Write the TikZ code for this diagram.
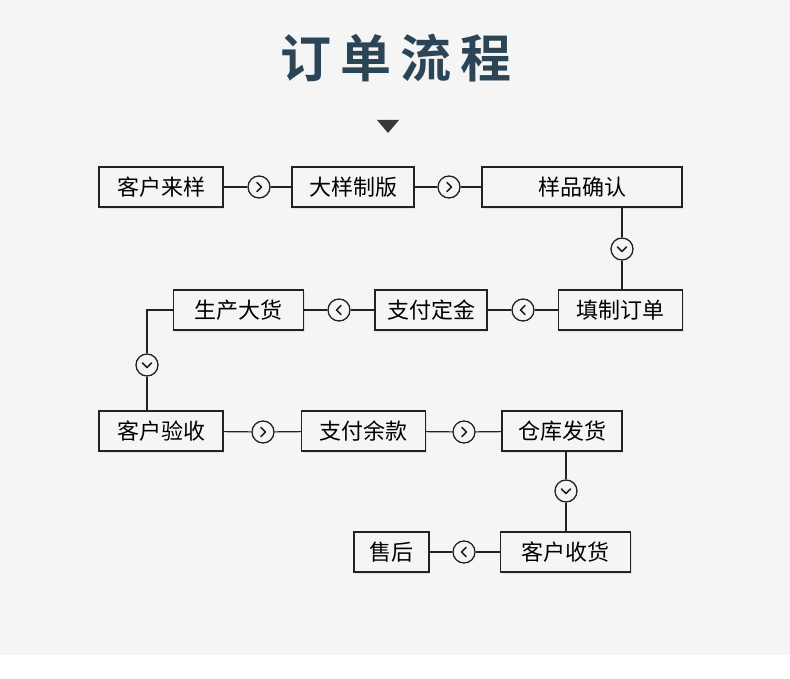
\documentclass[tikz,border=0pt]{standalone}
\usepackage{fontspec}
\newfontfamily\cjk{Noto Sans CJK SC}
\newfontfamily\cjkbold{Noto Sans CJK SC Bold}
\usetikzlibrary{shadows}

\definecolor{bggray}{HTML}{F5F5F5}
\definecolor{titleblue}{HTML}{2B4557}
\definecolor{linegray}{HTML}{222222}

\tikzset{
  stepbox/.style={draw=linegray, line width=1.2pt, fill=bggray, inner sep=0pt,
    minimum height=40pt, font=\cjk\fontsize{22pt}{22pt}\selectfont,
    drop shadow={shadow xshift=1pt, shadow yshift=-2pt, opacity=.15}},
  turn/.style={circle, draw=linegray, line width=1.3pt, fill=bggray, inner sep=0pt, minimum size=22pt},
  link/.style={draw=linegray, line width=1.2pt},
  chev/.style={draw=linegray, line width=1.5pt, line cap=round, line join=round}
}

% chevrons inside the turn circles
\newcommand\chevright[1]{\draw[chev] ([shift={(-2pt,4.5pt)}]#1.center) -- ++(4.5pt,-4.5pt) -- ++(-4.5pt,-4.5pt);}
\newcommand\chevleft[1]{\draw[chev] ([shift={(2pt,4.5pt)}]#1.center) -- ++(-4.5pt,-4.5pt) -- ++(4.5pt,-4.5pt);}
\newcommand\chevdown[1]{\draw[chev] ([shift={(-4.5pt,2pt)}]#1.center) -- ++(4.5pt,-4.5pt) -- ++(4.5pt,4.5pt);}

\begin{document}
\begin{tikzpicture}[x=1pt,y=-1pt]
	\fill[bggray] (0,0) rectangle (790,655);
	\useasboundingbox (0,0) rectangle (790,679);

	% title
	\node[text=titleblue, font=\cjkbold\fontsize{51pt}{51pt}\selectfont] (title) at (396,58)
	  {订\hspace{9pt}单\hspace{9pt}流\hspace{9pt}程};
	\fill[linegray!90] (377,120) -- (399,120) -- (388,133) -- cycle;

	% row 1
	\node[stepbox, minimum width=124pt] (sample) at (161,187) {客户来样};
	\node[stepbox, minimum width=122pt] (plate) at (353,187) {大样制版};
	\node[stepbox, minimum width=200pt] (confirm) at (582,187) {样品确认};
	% row 2
	\node[stepbox, minimum width=124pt] (order) at (620.5,310) {填制订单};
	\node[stepbox, minimum width=112pt] (deposit) at (431,310) {支付定金};
	\node[stepbox, minimum width=130pt] (produce) at (238.5,310) {生产大货};
	% row 3
	\node[stepbox, minimum width=124pt] (accept) at (161,431) {客户验收};
	\node[stepbox, minimum width=124pt] (balance) at (363.5,431) {支付余款};
	\node[stepbox, minimum width=120pt] (ship) at (562,431) {仓库发货};
	% row 4
	\node[stepbox, minimum width=130pt] (receive) at (565.5,552) {客户收货};
	\node[stepbox, minimum width=75pt] (service) at (391.5,552) {售后};

	% turns
	\node[turn] (t1) at (259,187) {};
	\node[turn] (t2) at (449,187) {};
	\node[turn] (t3) at (622,249) {};
	\node[turn] (t4) at (523,310) {};
	\node[turn] (t5) at (339,310) {};
	\node[turn] (t6) at (147,365) {};
	\node[turn] (t7) at (263,432) {};
	\node[turn] (t8) at (464,432) {};
	\node[turn] (t9) at (566,491) {};
	\node[turn] (t10) at (464,552) {};
	\coordinate (bendtop) at (147,310);

	% connectors
	\draw[link] (sample) -- (t1) -- (plate);
	\draw[link] (plate) -- (t2) -- (confirm);
	\draw[link] (t3 |- confirm.south) -- (t3) -- (t3 |- order.north);
	\draw[link] (order) -- (t4) -- (deposit);
	\draw[link] (deposit) -- (t5) -- (produce);
	\draw[link] (produce.west) -- (bendtop) -- (t6) -- (t6 |- accept.north);
	\draw[link] (accept) -- (t7) -- (balance);
	\draw[link] (balance) -- (t8) -- (ship);
	\draw[link] (t9 |- ship.south) -- (t9) -- (t9 |- receive.north);
	\draw[link] (receive) -- (t10) -- (service);

	\chevright{t1} \chevright{t2} \chevdown{t3}
	\chevleft{t4} \chevleft{t5} \chevdown{t6}
	\chevright{t7} \chevright{t8} \chevdown{t9}
	\chevleft{t10}
\end{tikzpicture}
\end{document}
